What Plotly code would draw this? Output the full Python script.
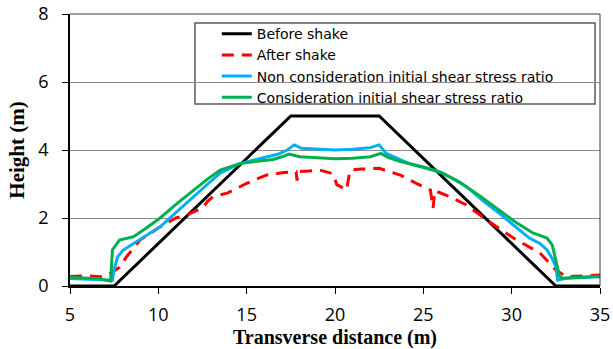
import plotly.graph_objects as go

before_x = [5, 7.5, 17.5, 22.5, 32.5, 35]
before_y = [0, 0, 5, 5, 0, 0]

after_x = [5.0, 6.0, 6.7, 7.3, 7.8, 8.2, 8.96, 10.1, 11.0, 11.6, 12.5, 12.8, 13.1, 13.9, 15.0, 16.1, 17.0,
           17.8, 17.85, 17.9, 18.5, 19.15, 19.9, 20.1, 20.4, 20.65, 20.85, 21.5, 22.5, 23.7, 24.6, 25.4,
           25.55, 25.65, 26.5, 27.45, 28.6, 30.1, 31.6, 32.2, 32.5, 33.1, 34.0, 35.0]
after_y = [0.28, 0.3, 0.27, 0.38, 0.55, 0.86, 1.35, 1.74, 2.0, 2.09, 2.29, 2.5, 2.63, 2.73, 3.02, 3.26, 3.33,
           3.36, 3.1, 3.36, 3.38, 3.41, 3.3, 2.98, 2.9, 2.82, 3.41, 3.44, 3.46, 3.26, 3.02, 2.82,
           2.29, 2.8, 2.63, 2.38, 1.94, 1.41, 0.97, 0.65, 0.47, 0.27, 0.3, 0.32]

noncons_x = [5.0, 6.0, 7.0, 7.4, 7.5, 7.7, 8.0, 8.6, 9.2, 10.1, 11.0, 12.0, 12.8, 13.5, 14.6, 15.5, 16.1,
             16.8, 17.3, 17.7, 18.1, 19.0, 20.0, 21.0, 22.0, 22.5, 22.9, 24.2, 25.2, 26.1, 26.8, 27.45,
             28.4, 29.3, 30.2, 31.0, 31.6, 32.0, 32.3, 32.5, 32.6, 33.1, 34.0, 35.0]
noncons_y = [0.22, 0.2, 0.2, 0.17, 0.5, 0.86, 1.05, 1.26, 1.45, 1.74, 2.15, 2.63, 3.0, 3.32, 3.6, 3.72, 3.8,
             3.88, 4.0, 4.15, 4.05, 4.02, 4.0, 4.02, 4.07, 4.15, 3.9, 3.6, 3.45, 3.32, 3.12, 2.92,
             2.5, 2.14, 1.75, 1.41, 1.25, 1.06, 0.8, 0.57, 0.18, 0.23, 0.25, 0.27]

cons_x = [5.0, 6.5, 7.3, 7.4, 7.8, 8.6, 9.3, 10.1, 11.0, 12.0, 12.8, 13.5, 14.6, 15.5, 16.5, 17.0, 17.4,
          18.0, 19.0, 20.0, 21.0, 22.0, 22.6, 23.0, 23.7, 25.0, 25.9, 27.0, 28.2, 29.3, 30.3, 31.2,
          31.7, 32.0, 32.3, 32.5, 32.7, 32.85, 34.0, 35.0]
cons_y = [0.25, 0.22, 0.15, 1.06, 1.35, 1.45, 1.7, 2.0, 2.4, 2.82, 3.15, 3.41, 3.6, 3.66, 3.72, 3.8, 3.88,
          3.8, 3.76, 3.74, 3.76, 3.8, 3.9, 3.78, 3.66, 3.5, 3.36, 3.07, 2.65, 2.24, 1.85, 1.56,
          1.48, 1.41, 1.2, 0.76, 0.3, 0.23, 0.27, 0.29]

x_ticks = [5, 10, 15, 20, 25, 30, 35]
y_ticks = [0, 2, 4, 6, 8]

fig = go.Figure()
fig.add_trace(go.Scatter(x=before_x, y=before_y, mode="lines", name="Before shake",
                         line=dict(color="black", width=3)))
fig.add_trace(go.Scatter(x=after_x, y=after_y, mode="lines", name="After shake",
                         line=dict(color="#ff0000", width=3, dash="12px,8px")))
fig.add_trace(go.Scatter(x=noncons_x, y=noncons_y, mode="lines",
                         name="Non consideration initial shear stress ratio",
                         line=dict(color="#00b0f0", width=3)))
fig.add_trace(go.Scatter(x=cons_x, y=cons_y, mode="lines",
                         name="Consideration initial shear stress ratio",
                         line=dict(color="#00b050", width=3)))

fig.update_layout(
    width=613, height=349,
    margin=dict(l=70, r=13, t=14, b=63, autoexpand=False),
    plot_bgcolor="white", paper_bgcolor="white",
    showlegend=True,
    legend=dict(x=0.277, y=0.985, xanchor="left", yanchor="top",
                bgcolor="rgba(0,0,0,0)", borderwidth=0,
                font=dict(family="DejaVu Sans", size=14, color="black"),
                tracegroupgap=0, itemwidth=30),
    xaxis=dict(range=[5, 35], tickvals=x_ticks, ticks="outside", ticklen=6, tickcolor="black",
               showline=True, linecolor="black", linewidth=1.5, showgrid=False, zeroline=False,
               automargin=False, ticklabelstandoff=6,
               tickfont=dict(family="Open Sans", size=18, color="black"),
               title=dict(text="<b>Transverse distance (m)</b>", standoff=0,
                          font=dict(family="Liberation Serif", size=20, color="black"))),
    yaxis=dict(range=[0, 8], tickvals=y_ticks, ticks="outside", ticklen=6, tickcolor="black",
               showline=True, linecolor="black", linewidth=1.5, showgrid=True, gridcolor="#8c8c8c",
               gridwidth=1, zeroline=False, automargin=False, ticklabelstandoff=10,
               tickfont=dict(family="Open Sans", size=18, color="black"),
               title=dict(text="<b>Height (m)</b>", standoff=8,
                          font=dict(family="Liberation Serif", size=21, color="black"))),
)
# plot frame top and right
fig.add_shape(type="line", xref="paper", yref="paper", x0=0, x1=1, y0=1, y1=1,
              line=dict(color="#3a3a3a", width=1))
fig.add_shape(type="line", xref="paper", yref="paper", x0=1, x1=1, y0=0, y1=1,
              line=dict(color="#3a3a3a", width=1))
# legend frame
fig.add_shape(type="rect", xref="paper", yref="paper", x0=0.2358, x1=0.9906, y0=0.669, y1=0.967,
              line=dict(color="#5a5a5a", width=1.5), fillcolor="white", layer="below")

fig.write_html("out.html")
